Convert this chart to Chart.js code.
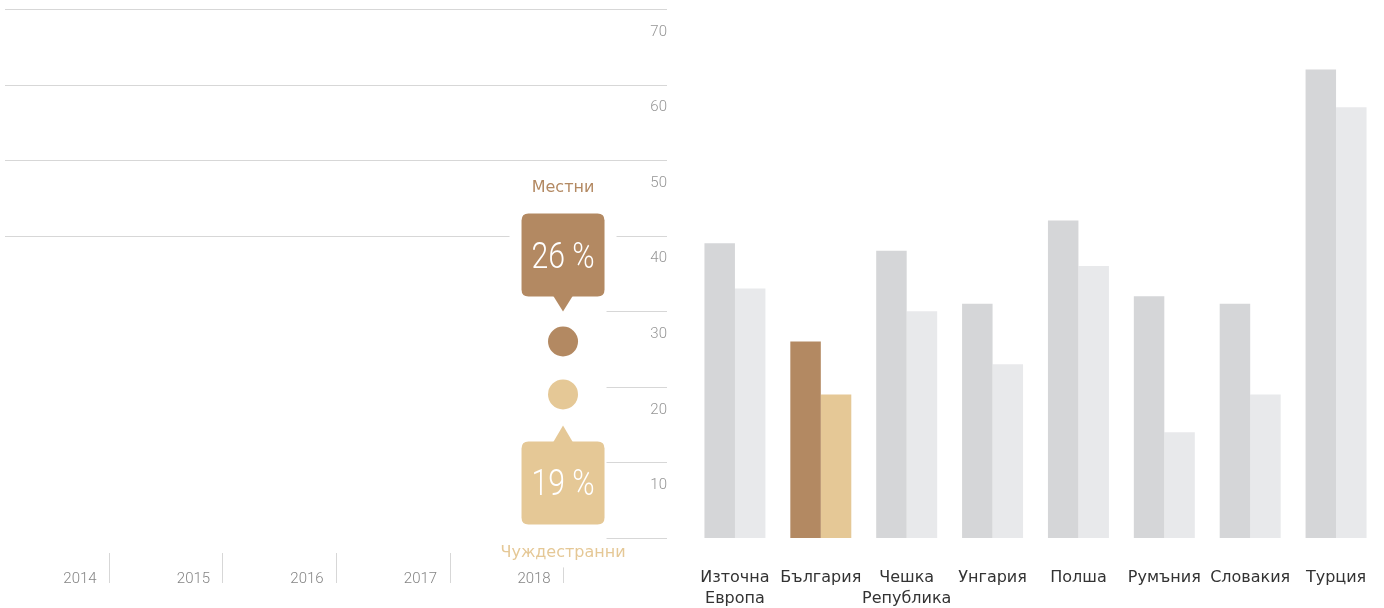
<!DOCTYPE html>
<html><head><meta charset="utf-8">
<script src="https://cdn.jsdelivr.net/npm/chart.js@4/dist/chart.umd.min.js"></script>
<style>
html,body{margin:0;padding:0;background:#fff;overflow:hidden}
#wrap{position:relative;width:1384px;height:608px}
.box{position:absolute;top:0;height:608px}
</style></head><body>
<div id="wrap">
<div class="box" style="left:0;width:690px"><canvas id="left" width="690" height="608"></canvas></div>
<div class="box" style="left:680px;width:704px"><canvas id="right" width="704" height="608"></canvas></div>
</div>
<script>
// ---- data ----
const years = [2014, 2015, 2016, 2017, 2018];
const localShare = [null, null, null, null, 26];
const foreignShare = [null, null, null, null, 19];
const seriesNames = ['Местни', 'Чуждестранни'];
const yTicks = [0, 10, 20, 30, 40, 50, 60, 70];
const countries = [['Източна', 'Европа'], 'България', ['Чешка', 'Република'], 'Унгария', 'Полша', 'Румъния', 'Словакия', 'Турция'];
const localByCountry = [39, 26, 38, 31, 42, 32, 31, 62];
const foreignByCountry = [33, 19, 30, 23, 36, 14, 19, 57];
const highlight = 'България';

// ---- styles ----
const BROWN = '#b38962', SAND = '#e5c896', GREY1 = '#d5d6d8', GREY2 = '#e8e9eb';
const GRID = '#d7d7d7';
const NUMF = "Roboto, 'DejaVu Sans Condensed', sans-serif";
const SANS = "'DejaVu Sans', sans-serif";
const calloutIdx = years.length - 1;

function geom(chart) {
  const p1 = chart.getDatasetMeta(0).data[calloutIdx];
  const p2 = chart.getDatasetMeta(1).data[calloutIdx];
  const S = 83;
  return {
    up: { x0: p1.x - S / 2, x1: p1.x + S / 2, y0: p1.y - 45 - S, y1: p1.y - 45, cx: p1.x, py: p1.y },
    dn: { x0: p2.x - S / 2, x1: p2.x + S / 2, y0: p2.y + 47, y1: p2.y + 47 + S, cx: p2.x, py: p2.y }
  };
}

const gridPlugin = {
  id: 'customGrid',
  beforeDatasetsDraw(chart) {
    const { ctx, chartArea: { left, right, bottom }, scales: { x, y } } = chart;
    const g = geom(chart);
    ctx.save();
    ctx.strokeStyle = GRID;
    ctx.lineWidth = 1;
    yTicks.forEach(v => {
      const yy = Math.round(y.getPixelForValue(v)) + 0.5;
      let segs;
      if (yy > g.up.y1) segs = [[g.up.x1 + 2, right]];
      else if (yy >= g.up.y0 && yy <= g.up.y1) segs = [[left, g.up.x0 - 12], [g.up.x1 + 12, right]];
      else segs = [[left, right]];
      segs.forEach(([a, b]) => { ctx.beginPath(); ctx.moveTo(a, yy); ctx.lineTo(b, yy); ctx.stroke(); });
    });
    // year separators
    years.forEach((yr, i) => {
      const xx = Math.round(x.getPixelForValue(yr)) + 0.5;
      const top = i === calloutIdx ? g.dn.y1 + 28 + 15 : bottom + 15;
      ctx.beginPath(); ctx.moveTo(xx, top); ctx.lineTo(xx, bottom + 45); ctx.stroke();
    });
    ctx.restore();
  }
};

function roundRect(ctx, x0, y0, w, h, r) {
  ctx.beginPath();
  ctx.moveTo(x0 + r, y0);
  ctx.lineTo(x0 + w - r, y0); ctx.quadraticCurveTo(x0 + w, y0, x0 + w, y0 + r);
  ctx.lineTo(x0 + w, y0 + h - r); ctx.quadraticCurveTo(x0 + w, y0 + h, x0 + w - r, y0 + h);
  ctx.lineTo(x0 + r, y0 + h); ctx.quadraticCurveTo(x0, y0 + h, x0, y0 + h - r);
  ctx.lineTo(x0, y0 + r); ctx.quadraticCurveTo(x0, y0, x0 + r, y0);
  ctx.closePath();
}

function narrowText(ctx, txt, x, y, sx) {
  ctx.save();
  ctx.translate(x, y);
  ctx.scale(sx, 1);
  ctx.fillText(txt, 0, 0);
  ctx.restore();
}

const calloutPlugin = {
  id: 'callouts',
  afterDatasetsDraw(chart) {
    const { ctx } = chart;
    const g = geom(chart);
    const vals = [localShare[calloutIdx], foreignShare[calloutIdx]];
    ctx.save();
    // upper
    ctx.fillStyle = BROWN;
    roundRect(ctx, g.up.x0, g.up.y0, g.up.x1 - g.up.x0, g.up.y1 - g.up.y0, 7); ctx.fill();
    ctx.beginPath(); ctx.moveTo(g.up.cx - 10, g.up.y1 - 1); ctx.lineTo(g.up.cx + 10, g.up.y1 - 1); ctx.lineTo(g.up.cx, g.up.py - 30); ctx.closePath(); ctx.fill();
    // lower
    ctx.fillStyle = SAND;
    roundRect(ctx, g.dn.x0, g.dn.y0, g.dn.x1 - g.dn.x0, g.dn.y1 - g.dn.y0, 7); ctx.fill();
    ctx.beginPath(); ctx.moveTo(g.dn.cx - 10, g.dn.y0 + 1); ctx.lineTo(g.dn.cx + 10, g.dn.y0 + 1); ctx.lineTo(g.dn.cx, g.dn.py + 31); ctx.closePath(); ctx.fill();
    // values
    ctx.fillStyle = '#ffffff';
    ctx.textAlign = 'center'; ctx.textBaseline = 'middle';
    ctx.font = '300 36px ' + NUMF;
    narrowText(ctx, vals[0] + ' %', g.up.cx, (g.up.y0 + g.up.y1) / 2 + 4, 0.84);
    narrowText(ctx, vals[1] + ' %', g.dn.cx, (g.dn.y0 + g.dn.y1) / 2 + 3, 0.84);
    // names
    ctx.font = '16px ' + SANS;
    ctx.fillStyle = BROWN; ctx.fillText(seriesNames[0], g.up.cx, g.up.y0 - 26);
    ctx.fillStyle = SAND; ctx.fillText(seriesNames[1], g.dn.cx, g.dn.y1 + 28);
    ctx.restore();
  }
};

const pointDs = (label, vals, color) => ({
  label, data: years.map((yr, i) => ({ x: yr, y: vals[i] })),
  showLine: false, pointRadius: 15, pointHoverRadius: 15, pointBorderWidth: 0,
  pointBackgroundColor: color, backgroundColor: color, borderColor: color, clip: false
});

new Chart(document.getElementById('left'), {
  type: 'line',
  data: { datasets: [pointDs(seriesNames[0], localShare, BROWN), pointDs(seriesNames[1], foreignShare, SAND)] },
  options: {
    responsive: false, animation: false, devicePixelRatio: 1, events: [],
    layout: { autoPadding: false, padding: { left: 5, top: 9, right: 23, bottom: 0 } },
    plugins: { legend: { display: false }, tooltip: { enabled: false } },
    scales: {
      x: {
        type: 'linear', min: 2013.084, max: 2018.916,
        grid: { display: false, drawTicks: false }, border: { display: false },
        afterFit: s => { s.height = 70; s.paddingLeft = 0; s.paddingRight = 0; },
        afterBuildTicks: s => { s.ticks = years.map(v => ({ value: v })); },
        ticks: { labelOffset: -29, padding: 32, color: '#858585', font: { family: NUMF, size: 15, weight: '300' },
          maxRotation: 0, autoSkip: false, callback: v => String(v) }
      },
      y: {
        position: 'right', min: 0, max: 70,
        grid: { display: false, drawTicks: false }, border: { display: false },
        afterFit: s => { s.width = 0; s.paddingTop = 0; s.paddingBottom = 0; },
        afterBuildTicks: s => { s.ticks = yTicks.map(v => ({ value: v })); },
        ticks: { mirror: true, padding: 0, labelOffset: 23, color: '#959595', font: { family: NUMF, size: 15, weight: '300' },
          callback: v => v === 0 ? '' : String(v) }
      }
    }
  },
  plugins: [gridPlugin, calloutPlugin]
});

const nameOf = c => Array.isArray(c) ? c.join(' ') : c;
new Chart(document.getElementById('right'), {
  type: 'bar',
  data: {
    labels: countries,
    datasets: [
      { label: seriesNames[0], data: localByCountry, backgroundColor: countries.map(c => nameOf(c) === highlight ? BROWN : GREY1) },
      { label: seriesNames[1], data: foreignByCountry, backgroundColor: countries.map(c => nameOf(c) === highlight ? SAND : GREY2) }
    ]
  },
  options: {
    responsive: false, animation: false, devicePixelRatio: 1, events: [],
    layout: { padding: { left: 12, right: 5, top: 9, bottom: 0 } },
    datasets: { bar: { categoryPercentage: 0.71, barPercentage: 1, borderWidth: 0 } },
    plugins: { legend: { display: false }, tooltip: { enabled: false } },
    scales: {
      x: {
        grid: { display: false, drawTicks: false }, border: { display: false },
        afterFit: s => { s.height = 70; s.paddingLeft = 0; s.paddingRight = 0; },
        ticks: { padding: 29, color: '#333', font: { family: SANS, size: 16, lineHeight: 1.3125 }, maxRotation: 0, autoSkip: false }
      },
      y: { display: false, min: 0, max: 70 }
    }
  }
});
</script>
</body></html>
